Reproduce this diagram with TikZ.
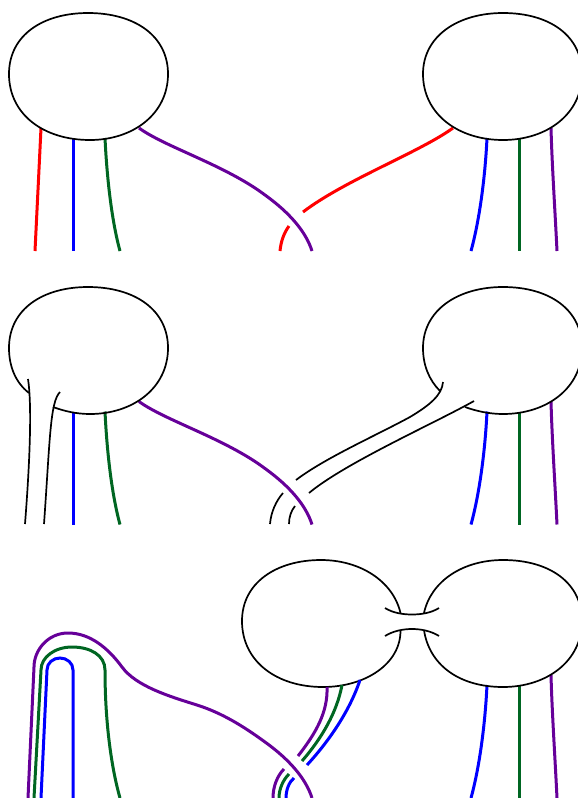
\documentclass[tikz,border=0pt]{standalone}
\definecolor{kpurple}{RGB}{102,0,153}
\definecolor{kgreen}{RGB}{0,102,34}
\definecolor{kblue}{RGB}{0,0,255}
\definecolor{kred}{RGB}{255,0,0}
\tikzset{
  blob/.style={draw=black,line width=1.7pt},
  thinstrand/.style={draw=black,line width=1.7pt},
  strand/.style={line width=3pt},
  purplestrand/.style={strand,draw=kpurple},
  greenstrand/.style={strand,draw=kgreen},
  bluestrand/.style={strand,draw=kblue},
  redstrand/.style={strand,draw=kred}
}
\newcommand{\rightstrands}{%
  \draw[bluestrand] (487,138) .. controls (485,180) and (479,222) .. (471,251);
  \draw[greenstrand] (519,139) -- (519,251);
  \draw[purplestrand] (551,128) .. controls (552,165) and (555,210) .. (557,251);
}
\newcommand{\longpurple}{%
  \draw[purplestrand] (139,128) .. controls (165,147) and (225,165) .. (265,195) .. controls (290,213) and (306,232) .. (312,251);
}
\begin{document}
\begin{tikzpicture}[x=1pt,y=-1pt]
\useasboundingbox (0,0) rectangle (578,798);
\clip (0,0) rectangle (578,798);
% --- row 1
\draw[redstrand] (41,128) .. controls (39,170) and (37,210) .. (35,251);
\draw[bluestrand] (73,139) -- (73,251);
\draw[greenstrand] (105,138) .. controls (107,180) and (112,222) .. (120,251);
\longpurple
\draw[redstrand] (453,128) .. controls (420,152) and (345,180) .. (303,212);
\draw[redstrand] (289,226) .. controls (284,233) and (281,241) .. (280,251);
\rightstrands
\draw[blob] (9,74) .. controls (9,35) and (43,13) .. (88,13) .. controls (135,13) and (168,36) .. (168,74) .. controls (168,114) and (133,140) .. (90,140) .. controls (43,140) and (9,114) .. (9,74) -- cycle;
\draw[blob] (423,74) .. controls (423,36) and (458,13) .. (503,13) .. controls (550,13) and (582,36) .. (582,74) .. controls (582,114) and (547,140) .. (503,140) .. controls (458,140) and (423,114) .. (423,74) -- cycle;
% --- row 2
\begin{scope}[yshift=-273.5pt]
\draw[bluestrand] (73,139) -- (73,251);
\draw[greenstrand] (105,138) .. controls (107,180) and (112,222) .. (120,251);
\longpurple
\rightstrands
\end{scope}
\draw[blob] (29,393) .. controls (16,383) and (9,367) .. (9,348) .. controls (9,309) and (43,287) .. (88,287) .. controls (135,287) and (168,310) .. (168,348) .. controls (168,388) and (133,414) .. (90,414) .. controls (76,414) and (64,411) .. (53,407);
\draw[blob] (440,391) .. controls (429,380) and (423,365) .. (423,348) .. controls (423,310) and (458,287) .. (503,287) .. controls (550,287) and (582,310) .. (582,348) .. controls (582,388) and (547,414) .. (503,414) .. controls (489,414) and (476,411) .. (465,407);
\draw[thinstrand] (28,379) .. controls (32,405) and (30,460) .. (25,524);
\draw[thinstrand] (60,392) .. controls (50,402) and (50,440) .. (44,524);
\draw[thinstrand] (443,382) .. controls (442,395) and (430,405) .. (410,417) .. controls (375,436) and (325,458) .. (296,480);
\draw[thinstrand] (474,401) .. controls (435,423) and (345,463) .. (309,493);
\draw[thinstrand] (283,493) .. controls (276,501) and (271,512) .. (270,524);
\draw[thinstrand] (295,506) .. controls (291,511) and (289,517) .. (289,524);
% --- row 3
\begin{scope}[yshift=-547pt]
\rightstrands
\end{scope}
\draw[blob] (400.5,613) .. controls (393,581) and (360,560) .. (321,560) .. controls (276,560) and (242,583) .. (242,621) .. controls (242,661) and (276,687) .. (323,687) .. controls (365,687) and (401,664) .. (400.5,630);
\draw[blob] (424,630) .. controls (429,664) and (458,687) .. (503,687) .. controls (547,687) and (582,661) .. (582,621) .. controls (582,583) and (550,560) .. (503,560) .. controls (463,560) and (431,581) .. (424,613);
\draw[thinstrand] (385,608) .. controls (393,613) and (403,614.5) .. (412,614.5) .. controls (421,614.5) and (431,613) .. (439,608);
\draw[thinstrand] (385,636) .. controls (393,631) and (403,629) .. (412,629) .. controls (421,629) and (431,631) .. (439,636);
\draw[purplestrand] (327,687) .. controls (328,712) and (316,733) .. (298,756);
\draw[greenstrand] (342,685) .. controls (337,712) and (322,738) .. (302,761);
\draw[bluestrand] (360,680) .. controls (350,710) and (330,740) .. (307,765);
\draw[purplestrand] (284,769) .. controls (277,776) and (273,787) .. (273,798);
\draw[greenstrand] (289,774) .. controls (283,780) and (279,789) .. (279,798);
\draw[bluestrand] (294,778) .. controls (289,782) and (286,790) .. (286,798);
\draw[purplestrand] (312,798) .. controls (306,779) and (290,760) .. (265,742) .. controls (243,726) and (222,713) .. (197,705) .. controls (168,696) and (136,686) .. (122,667) .. controls (108,648) and (90,633) .. (68,633) .. controls (48,633) and (34,650) .. (34,667) -- (28,798);
\draw[greenstrand] (120,798) .. controls (112,770) and (105,725) .. (105,670) .. controls (105,655) and (90,647) .. (72,647) .. controls (55,647) and (41,657) .. (41,670) -- (34,798);
\draw[bluestrand] (73,798) -- (73,670) .. controls (73,663) and (67,658) .. (60,658) .. controls (53,658) and (47,663) .. (47,670) -- (41,798);
\end{tikzpicture}
\end{document}
